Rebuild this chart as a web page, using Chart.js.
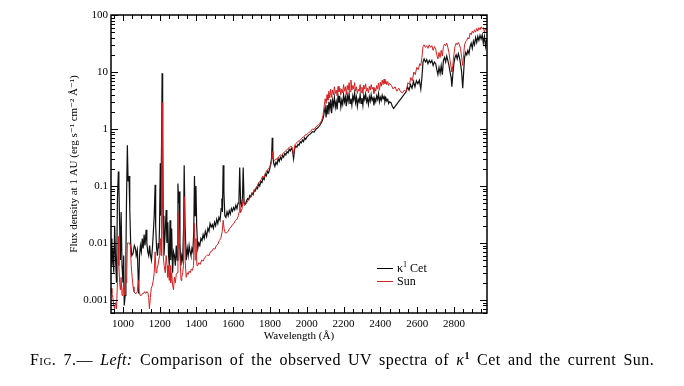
<!DOCTYPE html>
<html>
<head>
<meta charset="utf-8">
<script src="https://cdn.jsdelivr.net/npm/chart.js@4.4.1/dist/chart.umd.min.js"></script>
<style>
  html, body { margin: 0; padding: 0; background: #fff; }
  #wrap { position: relative; width: 684px; height: 386px; }
  #chart { position: absolute; left: 0; top: 0; }
  .legend { position: absolute; font-family: "Liberation Serif", "DejaVu Serif", serif; font-size: 12px; color: #000; }
  .legend .row { position: relative; height: 13px; line-height: 13px; }
  .legend .swatch { position: absolute; left: 0; top: 6px; width: 16px; height: 0; border-top: 1.3px solid; }
  .legend .lbl { position: absolute; left: 20px; top: 0; white-space: nowrap; }
  .legend sup { font-size: 8px; vertical-align: 5px; line-height: 0; }
  #caption { position: absolute; left: 30px; top: 351px; font-family: "Liberation Serif", "DejaVu Serif", serif; font-size: 16px; letter-spacing: 0.45px; word-spacing: 2.8px; color: #000; white-space: nowrap; }
  #caption sup { font-size: 10px; vertical-align: 6px; line-height: 0; font-weight: bold; }
</style>
</head>
<body>
<div id="wrap">
  <canvas id="chart" width="684" height="386"></canvas>
  <div class="legend" style="left:377px; top:262px;">
    <div class="row"><span class="swatch" style="border-color:#000"></span><span class="lbl">κ<sup>1</sup> Cet</span></div>
    <div class="row"><span class="swatch" style="border-color:#d42020"></span><span class="lbl">Sun</span></div>
  </div>
  <div id="caption"><span style="font-variant: small-caps">Fig. 7.</span>— <i>Left:</i> Comparison of the observed UV spectra of <i>κ</i><sup>1</sup> Cet and the current Sun.</div>
</div>
<script>
// wavelength (Å) / flux pairs
const cetPoints = [
  [935, 0.012], [940, 0.004], [945, 0.008], [950, 0.003], [955, 0.02], [960, 0.005], [965, 0.002],
  [970, 0.06], [975, 0.18], [978, 0.1], [982, 0.02], [986, 0.005], [990, 0.035], [995, 0.004],
  [1000, 0.002], [1004, 0.006], [1007, 0.0008], [1012, 0.0012], [1016, 0.006], [1020, 0.08],
  [1024, 0.52], [1028, 0.12], [1033, 0.15], [1037, 0.04], [1042, 0.01], [1048, 0.006], [1055, 0.0065],
  [1062, 0.009], [1068, 0.008], [1072, 0.006], [1078, 0.0075], [1082, 0.003], [1085, 0.0013],
  [1090, 0.006], [1095, 0.009], [1100, 0.007], [1105, 0.012], [1110, 0.008], [1115, 0.014],
  [1120, 0.009], [1126, 0.017], [1130, 0.01], [1135, 0.007], [1140, 0.006], [1145, 0.009],
  [1150, 0.006], [1155, 0.005], [1160, 0.008], [1165, 0.015], [1170, 0.03], [1175, 0.105],
  [1178, 0.02], [1183, 0.008], [1188, 0.006], [1192, 0.01], [1196, 0.008], [1199, 0.02],
  [1203, 0.25], [1206, 0.03], [1210, 0.6], [1213, 9.5], [1216, 0.8], [1219, 0.03], [1223, 0.006],
  [1228, 0.012], [1235, 0.038], [1239, 0.01], [1244, 0.023], [1248, 0.006], [1252, 0.004],
  [1256, 0.025], [1260, 0.005], [1265, 0.018], [1270, 0.003], [1275, 0.007], [1280, 0.006],
  [1285, 0.004], [1290, 0.009], [1295, 0.005], [1299, 0.11], [1303, 0.05], [1306, 0.08],
  [1310, 0.01], [1315, 0.004], [1320, 0.006], [1325, 0.005], [1330, 0.02], [1333, 0.23],
  [1338, 0.02], [1344, 0.005], [1350, 0.008], [1355, 0.006], [1360, 0.009], [1365, 0.007],
  [1370, 0.006], [1375, 0.008], [1380, 0.007], [1385, 0.015], [1389, 0.15], [1393, 0.03],
  [1397, 0.1], [1401, 0.02], [1407, 0.008], [1412, 0.01], [1418, 0.009], [1424, 0.012],
  [1430, 0.011], [1436, 0.014], [1442, 0.012], [1448, 0.016], [1455, 0.013], [1462, 0.018],
  [1468, 0.016], [1474, 0.022], [1480, 0.019], [1486, 0.021], [1492, 0.018], [1498, 0.023],
  [1504, 0.02], [1510, 0.026], [1516, 0.022], [1522, 0.028], [1528, 0.025], [1534, 0.04],
  [1538, 0.06], [1541, 0.035], [1545, 0.23], [1549, 0.08], [1554, 0.03], [1560, 0.028],
  [1566, 0.035], [1572, 0.03], [1578, 0.037], [1584, 0.032], [1590, 0.04], [1596, 0.036],
  [1602, 0.042], [1608, 0.038], [1614, 0.046], [1620, 0.04], [1626, 0.05], [1631, 0.06],
  [1635, 0.21], [1640, 0.05], [1645, 0.045], [1650, 0.06], [1654, 0.21], [1659, 0.05],
  [1666, 0.048], [1672, 0.055], [1678, 0.06], [1684, 0.058], [1690, 0.068], [1696, 0.065],
  [1702, 0.075], [1708, 0.07], [1714, 0.085], [1720, 0.082], [1726, 0.095], [1732, 0.09],
  [1738, 0.11], [1744, 0.1], [1750, 0.12], [1756, 0.115], [1762, 0.14], [1768, 0.13],
  [1774, 0.16], [1780, 0.15], [1786, 0.18], [1792, 0.17], [1798, 0.2], [1804, 0.25],
  [1808, 0.3], [1812, 0.7], [1815, 0.35], [1820, 0.25], [1826, 0.22], [1832, 0.26],
  [1838, 0.24], [1844, 0.3], [1850, 0.27], [1856, 0.32], [1862, 0.29], [1868, 0.34],
  [1874, 0.32], [1880, 0.37], [1886, 0.35], [1892, 0.4], [1898, 0.38], [1904, 0.44],
  [1910, 0.41], [1916, 0.46], [1922, 0.42], [1928, 0.3], [1934, 0.45], [1940, 0.5],
  [1946, 0.48], [1952, 0.54], [1958, 0.52], [1964, 0.6], [1970, 0.57], [1976, 0.64],
  [1982, 0.6], [1988, 0.7], [1994, 0.66], [2000, 0.72], [2010, 0.78], [2020, 0.82],
  [2030, 0.9], [2040, 0.88], [2050, 1.0], [2060, 1.05], [2070, 1.15], [2080, 1.3],
  [2088, 1.5], [2095, 2.0], [2100, 2.4], [2105, 1.6], [2110, 2.6], [2115, 1.8], [2120, 3.0],
  [2125, 2.2], [2130, 3.3], [2135, 1.9], [2140, 3.2], [2145, 2.6], [2150, 3.6], [2155, 2.4],
  [2160, 3.0], [2165, 2.2], [2170, 3.8], [2175, 2.9], [2180, 3.5], [2185, 2.4], [2190, 3.2],
  [2195, 2.7], [2200, 4.0], [2205, 3.0], [2210, 3.6], [2215, 2.5], [2220, 3.9], [2225, 3.1],
  [2230, 4.2], [2235, 2.8], [2240, 3.4], [2245, 2.6], [2250, 3.8], [2255, 3.2], [2260, 4.3],
  [2265, 2.9], [2270, 3.6], [2275, 2.5], [2280, 3.3], [2285, 3.0], [2290, 4.0], [2295, 2.8],
  [2300, 3.5], [2305, 2.6], [2310, 3.9], [2315, 3.3], [2320, 4.1], [2325, 3.0], [2330, 3.4],
  [2335, 2.7], [2340, 3.7], [2345, 3.1], [2350, 4.0], [2355, 3.2], [2360, 3.5], [2365, 2.6],
  [2370, 3.4], [2375, 3.0], [2380, 3.8], [2385, 3.3], [2390, 4.2], [2395, 3.0], [2400, 3.6],
  [2405, 3.2], [2410, 3.9], [2415, 3.4], [2420, 3.7], [2425, 3.0], [2430, 3.5], [2435, 3.1],
  [2440, 3.3], [2445, 2.8], [2450, 3.0], [2458, 2.9], [2465, 2.5], [2472, 2.3],
  [2540, 4.5], [2548, 5.5], [2556, 4.8], [2564, 6.0], [2572, 5.2], [2580, 6.8], [2588, 5.5],
  [2596, 7.0], [2604, 6.2], [2612, 7.2], [2620, 5.0], [2626, 8], [2632, 15], [2638, 17],
  [2645, 15], [2652, 16.5], [2659, 14], [2666, 16], [2673, 14.5], [2680, 16], [2687, 13],
  [2694, 15], [2701, 14], [2707, 11], [2713, 9], [2719, 12], [2725, 9.5], [2731, 13],
  [2737, 9], [2743, 16], [2749, 18], [2755, 15], [2761, 19], [2767, 16], [2773, 13],
  [2779, 10], [2785, 8], [2789, 5.5], [2794, 9], [2800, 14], [2806, 18], [2812, 20],
  [2818, 17], [2824, 21], [2830, 18], [2836, 14], [2842, 10], [2848, 5.2], [2853, 10],
  [2858, 18], [2864, 22], [2870, 20], [2876, 24], [2882, 21], [2888, 28], [2894, 32],
  [2900, 26], [2906, 35], [2912, 30], [2918, 40], [2924, 33], [2930, 42], [2936, 36],
  [2942, 44], [2948, 38], [2954, 45], [2960, 32], [2966, 42], [2972, 28], [2978, 38]
];

const sunPoints = [
  [935, 0.0016], [940, 0.0013], [945, 0.0011], [950, 0.0008], [955, 0.0007], [960, 0.0009],
  [965, 0.0007], [970, 0.002], [975, 0.013], [978, 0.004], [982, 0.002], [986, 0.0015],
  [990, 0.0025], [995, 0.0012], [1000, 0.0015], [1005, 0.002], [1010, 0.0012], [1015, 0.0025],
  [1020, 0.002], [1024, 0.01], [1030, 0.01], [1035, 0.01], [1040, 0.009], [1045, 0.004],
  [1050, 0.0025], [1055, 0.0017], [1060, 0.0014], [1066, 0.0013], [1072, 0.0013], [1078, 0.0014],
  [1084, 0.0022], [1088, 0.0014], [1094, 0.0012], [1100, 0.0012], [1106, 0.0013], [1112, 0.0013],
  [1118, 0.0014], [1124, 0.0013], [1130, 0.0014], [1136, 0.0013], [1140, 0.0011], [1144, 0.0007],
  [1149, 0.0011], [1154, 0.0016], [1160, 0.0018], [1165, 0.0022], [1170, 0.003], [1175, 0.007],
  [1180, 0.003], [1185, 0.0035], [1190, 0.004], [1195, 0.005], [1199, 0.006], [1203, 0.012],
  [1207, 0.006], [1210, 0.03], [1213, 2.9], [1216, 0.04], [1219, 0.006], [1224, 0.004],
  [1230, 0.003], [1235, 0.006], [1240, 0.004], [1244, 0.0025], [1248, 0.004], [1252, 0.0022],
  [1256, 0.004], [1260, 0.002], [1265, 0.003], [1270, 0.0018], [1275, 0.0015], [1280, 0.0025],
  [1285, 0.002], [1290, 0.0028], [1295, 0.003], [1299, 0.035], [1303, 0.008], [1307, 0.01],
  [1312, 0.004], [1316, 0.0022], [1320, 0.0025], [1325, 0.003], [1329, 0.004], [1333, 0.065],
  [1338, 0.005], [1344, 0.0025], [1350, 0.003], [1355, 0.0028], [1360, 0.0032], [1366, 0.003],
  [1372, 0.0035], [1378, 0.0033], [1384, 0.004], [1389, 0.022], [1393, 0.005], [1397, 0.012],
  [1402, 0.004], [1407, 0.004], [1412, 0.0045], [1420, 0.0042], [1428, 0.005], [1436, 0.0048],
  [1444, 0.0055], [1452, 0.0058], [1460, 0.0062], [1468, 0.006], [1476, 0.007], [1484, 0.0072],
  [1492, 0.008], [1500, 0.0078], [1508, 0.009], [1516, 0.0095], [1524, 0.011], [1532, 0.012],
  [1540, 0.016], [1545, 0.025], [1550, 0.018], [1556, 0.015], [1564, 0.015], [1572, 0.016],
  [1580, 0.018], [1588, 0.019], [1596, 0.021], [1604, 0.022], [1612, 0.025], [1620, 0.026],
  [1628, 0.03], [1632, 0.035], [1635, 0.05], [1640, 0.034], [1648, 0.04], [1654, 0.06],
  [1660, 0.045], [1672, 0.05], [1680, 0.055], [1688, 0.06], [1696, 0.065], [1704, 0.075],
  [1712, 0.08], [1720, 0.09], [1728, 0.095], [1736, 0.11], [1744, 0.12], [1752, 0.13],
  [1760, 0.15], [1768, 0.14], [1776, 0.17], [1784, 0.19], [1792, 0.2], [1800, 0.22],
  [1808, 0.26], [1812, 0.4], [1816, 0.3], [1824, 0.28], [1832, 0.3], [1840, 0.29],
  [1848, 0.33], [1856, 0.35], [1864, 0.34], [1872, 0.38], [1880, 0.4], [1888, 0.42],
  [1896, 0.45], [1904, 0.47], [1912, 0.5], [1920, 0.48], [1928, 0.35], [1934, 0.52],
  [1942, 0.56], [1950, 0.6], [1958, 0.62], [1966, 0.66], [1974, 0.7], [1982, 0.72],
  [1990, 0.78], [2000, 0.8], [2010, 0.86], [2020, 0.9], [2030, 1.0], [2040, 0.98],
  [2050, 1.1], [2060, 1.15], [2070, 1.25], [2080, 1.4], [2088, 1.7], [2095, 2.6], [2100, 3.4],
  [2105, 2.8], [2110, 4.0], [2115, 3.2], [2120, 4.6], [2125, 3.5], [2130, 5.0], [2135, 3.6],
  [2140, 4.8], [2145, 4.0], [2150, 5.5], [2155, 4.2], [2160, 4.8], [2165, 3.8], [2170, 5.6],
  [2175, 4.5], [2180, 5.2], [2185, 4.0], [2190, 5.0], [2195, 4.3], [2200, 6.0], [2205, 4.6],
  [2210, 5.5], [2215, 4.0], [2220, 5.8], [2225, 4.8], [2230, 6.5], [2235, 4.5], [2240, 7.2],
  [2245, 4.8], [2250, 5.8], [2255, 5.0], [2260, 6.5], [2265, 4.6], [2270, 5.5], [2275, 4.2],
  [2280, 5.0], [2285, 4.6], [2290, 6.0], [2295, 4.4], [2300, 5.4], [2305, 4.2], [2310, 5.9],
  [2315, 5.0], [2320, 6.2], [2325, 4.6], [2330, 5.2], [2335, 4.3], [2340, 5.6], [2345, 4.8],
  [2350, 6.0], [2355, 5.0], [2360, 5.4], [2365, 4.2], [2370, 5.2], [2375, 4.6], [2380, 5.8],
  [2385, 5.0], [2390, 6.4], [2395, 4.8], [2400, 6.6], [2405, 5.6], [2410, 7.2], [2415, 6.0],
  [2420, 7.5], [2425, 6.2], [2430, 7.0], [2435, 6.0], [2440, 6.8], [2445, 5.8], [2450, 6.3],
  [2460, 5.8], [2470, 5.0], [2480, 5.5], [2490, 4.6], [2500, 5.2], [2510, 4.5], [2520, 4.3],
  [2530, 4.8], [2540, 4.5], [2550, 6.5], [2558, 6.0], [2566, 8.0], [2574, 7.0], [2582, 10],
  [2590, 9], [2598, 12], [2606, 11], [2614, 14], [2620, 13], [2626, 18], [2632, 28],
  [2638, 30], [2645, 27], [2652, 29], [2659, 26], [2666, 30], [2673, 27], [2680, 29],
  [2687, 24], [2694, 28], [2701, 25], [2707, 20], [2713, 17], [2719, 22], [2725, 18],
  [2731, 24], [2737, 19], [2743, 28], [2749, 31], [2755, 29], [2761, 32], [2767, 27],
  [2773, 22], [2779, 16], [2785, 12], [2789, 10], [2794, 13], [2800, 20], [2806, 28],
  [2812, 32], [2818, 30], [2824, 33], [2830, 30], [2836, 26], [2842, 18], [2848, 13],
  [2853, 20], [2858, 30], [2864, 34], [2870, 36], [2876, 40], [2882, 38], [2888, 48],
  [2894, 45], [2900, 52], [2906, 48], [2912, 55], [2918, 50], [2924, 58], [2930, 52],
  [2936, 60], [2942, 55], [2948, 62], [2954, 57], [2960, 60], [2966, 50], [2972, 58], [2978, 54]
];

const xTickValues = [1000, 1200, 1400, 1600, 1800, 2000, 2200, 2400, 2600, 2800];
const yTickValues = [0.001, 0.01, 0.1, 1, 10, 100];

const serif = '"Liberation Serif", "DejaVu Serif", serif';

function toXY(points) {
  return points.map(p => ({ x: p[0], y: p[1] }));
}

// inward ticks on all four sides plus the box
const frameTicks = {
  id: 'frameTicks',
  afterDatasetsDraw(chart) {
    const { ctx, chartArea: a, scales: { x, y } } = chart;
    ctx.save();
    ctx.strokeStyle = '#000';
    ctx.lineWidth = 1;
    ctx.beginPath();
    for (let v = 950; v <= x.max; v += 50) {
      const px = Math.round(x.getPixelForValue(v)) + 0.5;
      const len = v % 200 === 0 ? 6 : 4;
      ctx.moveTo(px, a.bottom); ctx.lineTo(px, a.bottom - len);
      ctx.moveTo(px, a.top); ctx.lineTo(px, a.top + len);
    }
    for (let d = -4; d <= 2; d++) {
      for (let k = 1; k <= 9; k++) {
        const v = k * Math.pow(10, d);
        if (v < y.min || v > y.max) continue;
        const py = Math.round(y.getPixelForValue(v)) + 0.5;
        const len = k === 1 ? 7 : 4;
        ctx.moveTo(a.left, py); ctx.lineTo(a.left + len, py);
        ctx.moveTo(a.right, py); ctx.lineTo(a.right - len, py);
      }
    }
    ctx.stroke();
    ctx.lineWidth = 1.5;
    ctx.strokeRect(a.left, a.top, a.right - a.left, a.bottom - a.top);
    ctx.restore();
  }
};

new Chart(document.getElementById('chart').getContext('2d'), {
  type: 'line',
  data: {
    datasets: [
      { label: 'κ¹ Cet', data: toXY(cetPoints), borderColor: '#111', borderWidth: 1.2, pointRadius: 0, tension: 0, order: 2 },
      { label: 'Sun', data: toXY(sunPoints), borderColor: '#d42020', borderWidth: 1, pointRadius: 0, tension: 0, order: 1 }
    ]
  },
  options: {
    responsive: false,
    animation: false,
    layout: { padding: { top: 15, right: 197, left: 0, bottom: 0 } },
    plugins: { legend: { display: false }, tooltip: { enabled: false } },
    scales: {
      x: {
        type: 'linear',
        min: 935,
        max: 2980,
        grid: { display: false, drawTicks: false },
        border: { display: false },
        afterBuildTicks: s => { s.ticks = xTickValues.map(v => ({ value: v })); },
        afterFit: s => { s.height = 73; },
        ticks: { color: '#000', padding: 5, maxRotation: 0, font: { family: serif, size: 11 }, callback: v => String(v) },
        title: { display: true, text: 'Wavelength (Å)', color: '#000', font: { family: serif, size: 11 }, padding: { top: 0, bottom: 43 } }
      },
      y: {
        type: 'logarithmic',
        min: 0.00059,
        max: 100,
        grid: { display: false, drawTicks: false },
        border: { display: false },
        afterBuildTicks: s => { s.ticks = yTickValues.map(v => ({ value: v })); },
        afterFit: s => { s.width = 111; },
        ticks: { color: '#000', padding: 3, font: { family: serif, size: 11 }, callback: v => String(v) },
        title: { display: true, text: 'Flux density at 1 AU (erg s⁻¹ cm⁻² Å⁻¹)', color: '#000', font: { family: serif, size: 11 }, padding: { top: 68, bottom: 0 } }
      }
    }
  },
  plugins: [frameTicks]
});
</script>
</body>
</html>
